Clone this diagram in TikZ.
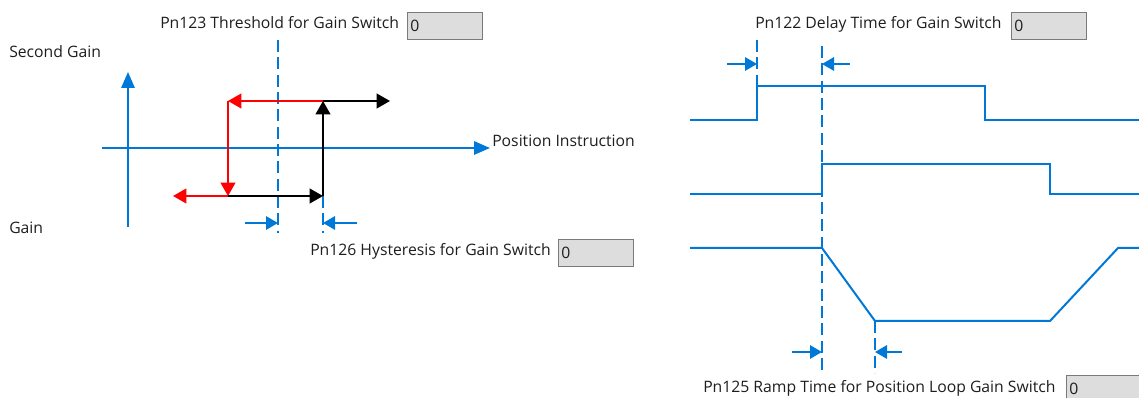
\documentclass[tikz,border=0pt]{standalone}
\usepackage{fontspec}
\setmainfont{Open Sans}
\usetikzlibrary{arrows.meta}
\definecolor{sigblue}{RGB}{0,120,215}
\definecolor{boxfill}{RGB}{221,221,221}
\definecolor{boxline}{RGB}{122,122,122}
\definecolor{txtgray}{RGB}{30,30,30}
\tikzset{
    lbl/.style={anchor=base west, inner sep=0pt, text=txtgray, font=\fontsize{11.8}{14}\selectfont},
    valbox/.style={draw=boxline, fill=boxfill, line width=0.9pt, anchor=north west,
        minimum width=56pt, minimum height=20pt, text width=52pt, align=left,
        inner sep=2pt, text=txtgray, font=\fontsize{11.8}{14}\selectfont},
    axis/.style={sigblue, line width=1.5pt, -{Triangle[length=12pt,width=10pt]}},
    sig/.style={sigblue, line width=1.5pt},
    guide/.style={sigblue, line width=1.5pt, dash pattern=on 9pt off 4pt},
    dim/.style={sigblue, line width=1.5pt, -{Triangle[length=9pt,width=10pt]}},
    hyst/.style={line width=1.5pt, -{Triangle[length=10pt,width=11pt]}}
}
\begin{document}
\begin{tikzpicture}[x=0.75pt, y=-0.75pt]
    \useasboundingbox (0,0) rectangle (1139,398);
    % hysteresis chart
    \node[lbl] (second) at (9,58) {Second Gain};
    \node[lbl] (first) at (9,234) {Gain};
    \coordinate (yb) at (128,227);
    \coordinate (yt) at (128,72);
    \coordinate (xl) at (102,148);
    \coordinate (xr) at (490,148);
    \draw[axis] (yb) -- (yt);
    \draw[axis] (xl) -- (xr);
    \node[lbl] (posinst) at (492,147) {Position Instruction};
    \draw[guide] (278,40) -- (278,233);
    \draw[guide] (323,196) -- (323,233);
    \coordinate (lt) at (228,101);
    \coordinate (lb) at (228,196);
    \coordinate (rt) at (323,101);
    \coordinate (rb) at (323,196);
    \draw[hyst, red] (rt) -- (lt);
    \draw[hyst, red] (lt) -- (lb);
    \draw[hyst, red] (lb) -- (173,196);
    \draw[hyst, black] (lb) -- (rb);
    \draw[hyst, black] (rb) -- (rt);
    \draw[hyst, black] (rt) -- (390,101);
    \draw[dim] (245,223) -- (278,223);
    \draw[dim] (357,223) -- (323,223);
    \node[lbl] (thr) at (160,29) {Pn123 Threshold for Gain Switch};
    \node[valbox] (thrval) at (407,12) {0};
    \node[lbl] (hys) at (310,256) {Pn126 Hysteresis for Gain Switch};
    \node[valbox] (hysval) at (558,239) {0};
    % timing chart
    \node[lbl] (dly) at (755,29) {Pn122 Delay Time for Gain Switch};
    \node[valbox] (dlyval) at (1011,12) {0};
    \draw[guide] (757,40) -- (757,86);
    \draw[guide] (822,46) -- (822,373);
    \draw[guide] (875,321) -- (875,373);
    \draw[sig] (690,120) -- (757,120) -- (757,86) -- (985,86) -- (985,120) -- (1139,120);
    \draw[sig] (690,194) -- (822,194) -- (822,164) -- (1050,164) -- (1050,194) -- (1139,194);
    \draw[sig] (690,248) -- (822,248) -- (875,321) -- (1050,321) -- (1118,248) -- (1139,248);
    \draw[dim] (727,64) -- (757,64);
    \draw[dim] (850,64) -- (822,64);
    \draw[dim] (792,352) -- (822,352);
    \draw[dim] (902,352) -- (875,352);
    \node[lbl] (ramp) at (703,393) {Pn125 Ramp Time for Position Loop Gain Switch};
    \node[valbox] (rampval) at (1066,375) {0};
\end{tikzpicture}
\end{document}
